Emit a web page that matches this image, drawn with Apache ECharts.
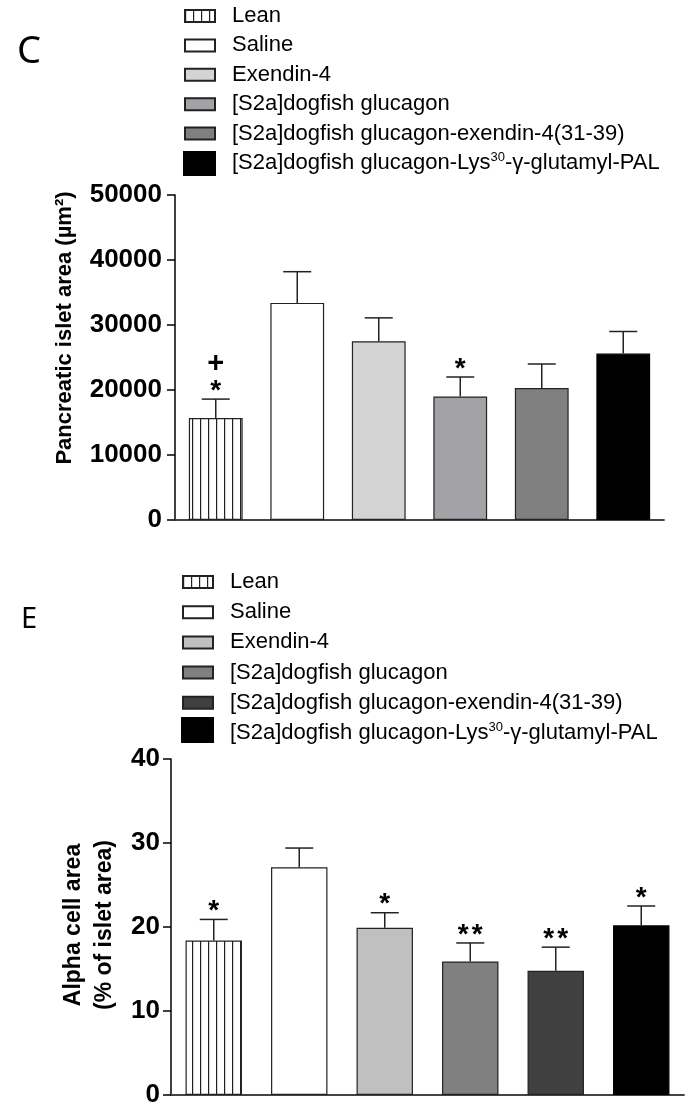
<!DOCTYPE html>
<html><head><meta charset="utf-8">
<script src="https://cdn.jsdelivr.net/npm/echarts@6.0.0/dist/echarts.min.js"></script>
<style>html,body{margin:0;padding:0;background:#fff}#c{width:696px;height:1110px}</style>
</head><body><div id="c"></div>
<script>
const groups = ['Lean', 'Saline', 'Exendin-4', '[S2a]dogfish glucagon', '[S2a]dogfish glucagon-exendin-4(31-39)', '[S2a]dogfish glucagon-Lys30-γ-glutamyl-PAL'];
const isletMean = [15700, 33400, 27500, 19000, 20300, 25600];
const isletErrTop = [18600, 38200, 31100, 22000, 24000, 29000];
const isletSig = ['*', '', '', '*', '', ''];
const isletSig2 = ['+', '', '', '', '', ''];
const isletTicks = [0, 10000, 20000, 30000, 40000, 50000];
const alphaMean = [18.4, 27.1, 19.9, 15.9, 14.8, 20.2];
const alphaErrTop = [20.9, 29.4, 21.7, 18.1, 17.6, 22.5];
const alphaSig = ['*', '', '*', '**', '**', '*'];
const alphaTicks = [0, 10, 20, 30, 40];
const isletColors = ['stripe', '#ffffff', '#d4d4d4', '#a3a2a7', '#808080', '#000000'];
const alphaColors = ['stripe', '#ffffff', '#c0c0c0', '#808080', '#404040', '#000000'];

const FONT = '"Liberation Sans", Arial, Helvetica, sans-serif';
const ZW = '\u200b';

function stripe() {
  const c = document.createElement('canvas');
  c.width = 8; c.height = 8;
  const g = c.getContext('2d');
  g.fillStyle = '#fff'; g.fillRect(0, 0, 8, 8);
  g.fillStyle = '#222'; g.fillRect(0, 0, 1.2, 8);
  return { image: c, repeat: 'repeat' };
}

function barSeries(vals, colors, idx, suffix) {
  return groups.map((n, i) => ({
    type: 'bar', name: n + suffix, xAxisIndex: idx, yAxisIndex: idx,
    barGap: '-100%', barCategoryGap: '34%', silent: true,
    data: vals.map((v, j) => j === i ? v : '-'),
    itemStyle: {
      color: colors[i] === 'stripe' ? stripe() : colors[i],
      borderColor: i === 5 ? '#000' : '#222', borderWidth: 1.2
    }
  }));
}

function errSeries(means, tops, sig, sig2, idx) {
  return {
    type: 'custom', xAxisIndex: idx, yAxisIndex: idx, silent: true, z: 5,
    data: means.map((m, i) => [i, m, tops[i]]),
    encode: { x: 0, y: [1, 2] },
    renderItem: (params, api) => {
      const i = api.value(0);
      const b = api.coord([i, api.value(1)]);
      const t = api.coord([i, api.value(2)]);
      const hw = 14;
      const st = { stroke: '#222', lineWidth: 1.5 };
      const ch = [
        { type: 'line', shape: { x1: b[0], y1: b[1], x2: t[0], y2: t[1] }, style: st },
        { type: 'line', shape: { x1: t[0] - hw, y1: t[1], x2: t[0] + hw, y2: t[1] }, style: st }
      ];
      const s = sig[params.dataIndex];
      if (s) {
        const n = s.length;
        for (let k = 0; k < n; k++) {
          ch.push({ type: 'text', style: { text: s[k], x: t[0] + (k - (n - 1) / 2) * 14, y: t[1] - 8,
            align: 'center', verticalAlign: 'middle', fontSize: 28, fontWeight: 'bold', fontFamily: FONT, fill: '#000' } });
        }
      }
      const s2 = sig2[params.dataIndex];
      if (s2) {
        ch.push({ type: 'text', style: { text: s2, x: t[0], y: t[1] - 35,
          align: 'center', verticalAlign: 'middle', fontSize: 29, fontWeight: 'bold', fontFamily: FONT, fill: '#000' } });
      }
      return { type: 'group', children: ch };
    }
  };
}

function fmt(name) {
  return name.replace(/\u200b/g, '').replace('Lys30', 'Lys{sup|30}');
}

function legendCfg(names, left, top, gap) {
  return {
    data: names, orient: 'vertical', left: left, top: top, padding: 0, itemWidth: 30, itemHeight: 12,
    itemGap: gap, icon: 'rect', selectedMode: false, formatter: fmt,
    textStyle: { fontSize: 22, fontFamily: FONT, color: '#000', lineHeight: 24, padding: [0, 0, 0, 12],
      rich: { sup: { fontSize: 13, lineHeight: 13, fontFamily: FONT, verticalAlign: 'top', color: '#000' } } }
  };
}

function yAxisCfg(idx, max, interval, margin) {
  return {
    type: 'value', gridIndex: idx, min: 0, max: max, interval: interval,
    axisLine: { show: true, lineStyle: { color: '#000', width: 1.5 } },
    axisTick: { show: true, length: 8, lineStyle: { color: '#000', width: 1.5 } },
    axisLabel: { fontSize: 26, fontWeight: 'bold', fontFamily: FONT, color: '#000', margin: margin, formatter: v => String(v) },
    splitLine: { show: false }
  };
}

function xAxisCfg(idx, names) {
  return {
    type: 'category', gridIndex: idx, data: names,
    axisLine: { show: true, lineStyle: { color: '#444', width: 1.8 } },
    axisTick: { show: false }, axisLabel: { show: false }, splitLine: { show: false }
  };
}

const bottomNames = groups.map(n => n + ZW);

const chart = echarts.init(document.getElementById('c'), null, { renderer: 'canvas' });
chart.setOption({
  animation: false,
  backgroundColor: '#fff',
  textStyle: { fontFamily: FONT },
  grid: [
    { left: 175, right: 32, top: 195, bottom: 590 },
    { left: 171, right: 12, top: 759, bottom: 15 }
  ],
  xAxis: [xAxisCfg(0, groups), xAxisCfg(1, groups)],
  yAxis: [
    yAxisCfg(0, isletTicks[isletTicks.length - 1], isletTicks[1] - isletTicks[0], 13),
    yAxisCfg(1, alphaTicks[alphaTicks.length - 1], alphaTicks[1] - alphaTicks[0], 11)
  ],
  legend: [legendCfg(groups, 184, 4, 5.4), legendCfg(bottomNames, 182, 570, 6.2)],
  series: [].concat(
    barSeries(isletMean, isletColors, 0, ''),
    [errSeries(isletMean, isletErrTop, isletSig, isletSig2, 0)],
    barSeries(alphaMean, alphaColors, 1, ZW),
    [errSeries(alphaMean, alphaErrTop, alphaSig, ['', '', '', '', '', ''], 1)]
  ),
  graphic: [
    { type: 'text', x: 29, y: 52, style: { text: 'C', align: 'center', verticalAlign: 'middle', fontSize: 38, fontFamily: '"Noto Sans", sans-serif', fill: '#000' } },
    { type: 'text', x: 29, y: 620, style: { text: 'E', align: 'center', verticalAlign: 'middle', fontSize: 29, fontFamily: '"Noto Sans", sans-serif', fill: '#000' } },
    { type: 'text', x: 65, y: 328, rotation: Math.PI / 2, style: { text: 'Pancreatic islet area (µm²)', align: 'center', verticalAlign: 'middle', fontSize: 22, fontWeight: 'bold', fontFamily: FONT, fill: '#000' } },
    { type: 'text', x: 89, y: 925, rotation: Math.PI / 2, style: { text: 'Alpha cell area\n(% of islet area)', align: 'center', verticalAlign: 'middle', fontSize: 23, lineHeight: 31, fontWeight: 'bold', fontFamily: FONT, fill: '#000' } },
    { type: 'rect', shape: { x: 183, y: 151, width: 33, height: 25 }, style: { fill: '#000' }, z: 100 },
    { type: 'rect', shape: { x: 181, y: 717, width: 33, height: 26 }, style: { fill: '#000' }, z: 100 }
  ]
});
</script>
</body></html>
